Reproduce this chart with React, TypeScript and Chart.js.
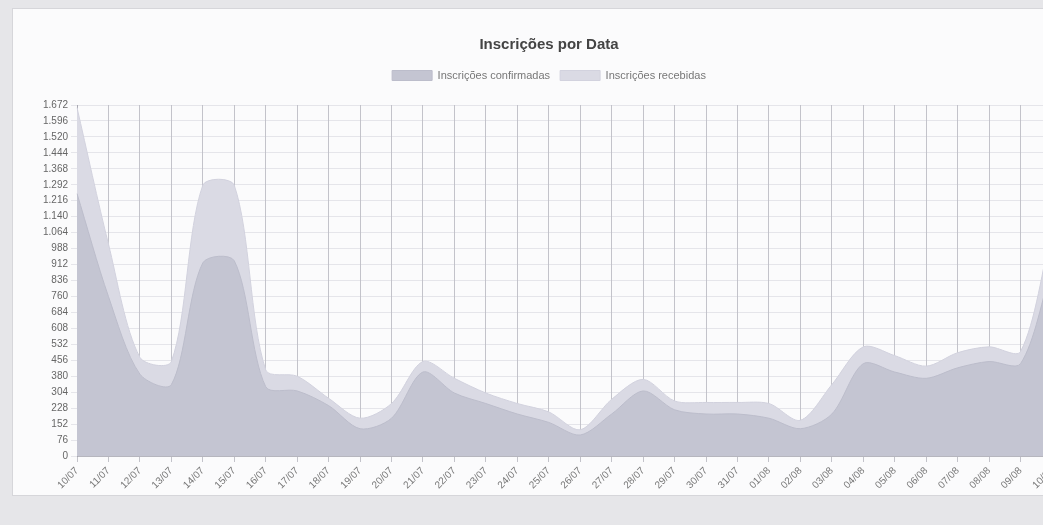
import React, { useEffect, useRef } from "react";
import { Chart, registerables } from "chart.js";

Chart.register(...registerables);

const labels = [
  "10/07", "11/07", "12/07", "13/07", "14/07", "15/07", "16/07", "17/07",
  "18/07", "19/07", "20/07", "21/07", "22/07", "23/07", "24/07", "25/07",
  "26/07", "27/07", "28/07", "29/07", "30/07", "31/07", "01/08", "02/08",
  "03/08", "04/08", "05/08", "06/08", "07/08", "08/08", "09/08", "10/08",
];

const confirmadas = [
  1250, 760, 390, 340, 920, 930, 330, 310, 240, 130, 180, 400, 300, 250, 200, 160,
  100, 200, 310, 220, 200, 200, 180, 130, 200, 440, 400, 370, 420, 450, 440, 900,
];

const recebidas = [
  1660, 1010, 470, 450, 1290, 1290, 410, 380, 275, 180, 250, 450, 370, 300, 250, 210,
  125, 270, 365, 262, 255, 255, 250, 170, 340, 520, 478, 428, 492, 520, 498, 1080,
];

const yMax = 1672;
const yStep = 76;

function formatBR(v: number): string {
  const s = Math.round(v).toString();
  return s.replace(/\B(?=(\d{3})+(?!\d))/g, ".");
}

const legendSpacer = {
  id: "legendSpacer",
  beforeInit(chart: any) {
    const legend = chart.legend;
    if (!legend) return;
    const origFit = legend.fit;
    legend.fit = function () {
      origFit.call(this);
      this.height += 14;
    };
  },
};

export default function App() {
  const canvasRef = useRef<HTMLCanvasElement | null>(null);

  useEffect(() => {
    if (!canvasRef.current) return;
    const font = "'Liberation Sans', Arial, Helvetica, sans-serif";
    const chart = new Chart(canvasRef.current, {
      type: "line",
      data: {
        labels,
        datasets: [
          {
            label: "Inscrições confirmadas",
            data: confirmadas,
            fill: "origin",
            backgroundColor: "rgb(196,197,210)",
            borderColor: "rgb(188,189,203)",
            borderWidth: 1,
            pointRadius: 0,
            tension: 0.3,
          },
          {
            label: "Inscrições recebidas",
            data: recebidas,
            fill: "origin",
            backgroundColor: "rgb(218,218,228)",
            borderColor: "rgb(210,210,222)",
            borderWidth: 1,
            pointRadius: 0,
            tension: 0.3,
          },
        ],
      },
      plugins: [legendSpacer],
      options: {
        animation: false,
        responsive: true,
        maintainAspectRatio: false,
        layout: { padding: { left: 14, right: 20, top: 0, bottom: 0 } },
        plugins: {
          title: {
            display: true,
            text: "Inscrições por Data",
            color: "#444",
            font: { family: font, size: 15, weight: "bold" },
            padding: { top: 27, bottom: 6 },
          },
          legend: {
            display: true,
            labels: {
              color: "#777",
              font: { family: font, size: 11 },
              boxWidth: 40,
              boxHeight: 10,
              padding: 10,
            },
          },
          tooltip: { enabled: false },
        },
        scales: {
          x: {
            grid: { color: "rgba(150,150,160,0.55)", tickLength: 6 },
            border: { color: "rgba(150,150,160,0.6)" },
            ticks: {
              autoSkip: false,
              maxRotation: 45,
              minRotation: 45,
              color: "#777",
              font: { family: font, size: 10 },
            },
            afterFit: (s: any) => {
              s.height = 39;
              s.paddingRight = 39;
            },
          },
          y: {
            min: 0,
            max: yMax,
            grid: { color: "rgba(190,190,200,0.35)", tickLength: 6 },
            border: { color: "rgba(150,150,160,0.6)" },
            ticks: {
              stepSize: yStep,
              autoSkip: false,
              color: "#666",
              font: { family: font, size: 10 },
              padding: 3,
              callback: (v: any) => formatBR(Number(v)),
            },
            afterFit: (s: any) => {
              s.width = 50;
            },
          },
        },
      },
    });
    return () => chart.destroy();
  }, []);

  return (
    <div
      style={{
        position: "fixed",
        inset: 0,
        overflow: "hidden",
        background: "#e6e6e9",
      }}
    >
      <div
        style={{
          position: "absolute",
          left: 12,
          top: 8,
          width: 1080,
          height: 488,
          background: "#fbfbfc",
          border: "1px solid #d6d6da",
          boxSizing: "border-box",
        }}
      >
        <canvas ref={canvasRef} />
      </div>
    </div>
  );
}
